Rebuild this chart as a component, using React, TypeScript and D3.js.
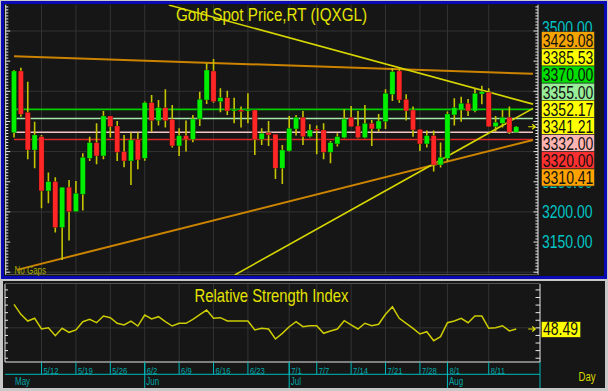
import React from "react";
import * as d3 from "d3";

// trading days shown on the chart
const dates = [
  "5/6", "5/7", "5/8", "5/9",
  "5/12", "5/13", "5/14", "5/15", "5/16",
  "5/19", "5/20", "5/21", "5/22", "5/23",
  "5/26", "5/27", "5/28", "5/29", "5/30",
  "6/2", "6/3", "6/4", "6/5", "6/6",
  "6/9", "6/10", "6/11", "6/12", "6/13",
  "6/16", "6/17", "6/18", "6/19", "6/20",
  "6/23", "6/24", "6/25", "6/26", "6/27",
  "6/30", "7/1", "7/2", "7/3", "7/4",
  "7/7", "7/8", "7/9", "7/10", "7/11",
  "7/14", "7/15", "7/16", "7/17", "7/18",
  "7/21", "7/22", "7/23", "7/24", "7/25",
  "7/28", "7/29", "7/30", "7/31", "8/1",
  "8/4", "8/5", "8/6", "8/7", "8/8",
  "8/11", "8/12", "8/13", "8/14", "8/15",
];

const opens = [
  3331.5, 3433.7, 3365.2, 3302.7, 3324.8, 3234.8, 3250.3, 3174.0, 3240.9, 3200.5,
  3229.3, 3288.9, 3314.9, 3292.8, 3359.1, 3342.5, 3300.0, 3284.5, 3320.4, 3288.9,
  3381.2, 3351.4, 3372.9, 3353.6, 3309.4, 3326.5, 3320.4, 3354.1, 3385.6, 3433.7,
  3382.9, 3389.5, 3367.4, 3369.0, 3367.4, 3369.0, 3320.4, 3331.5, 3328.7, 3272.4,
  3301.1, 3337.6, 3356.9, 3324.8, 3337.6, 3335.9, 3298.9, 3312.7, 3323.2, 3356.9,
  3342.5, 3323.2, 3346.9, 3337.6, 3349.7, 3395.0, 3433.7, 3386.7, 3369.0, 3337.0,
  3312.7, 3326.5, 3277.9, 3288.9, 3360.8, 3369.0, 3380.1, 3367.4, 3395.6, 3398.3,
  3341.4, 3346.9, 3356.9, 3332.0,
];
const highs = [
  3435.3, 3439.2, 3416.0, 3349.7, 3327.6, 3265.2, 3257.4, 3240.9, 3253.0, 3251.4,
  3297.2, 3324.8, 3346.9, 3367.4, 3359.1, 3350.8, 3327.6, 3331.5, 3331.5, 3382.9,
  3393.9, 3385.6, 3403.3, 3377.3, 3338.7, 3351.4, 3360.8, 3399.4, 3446.4, 3453.6,
  3405.0, 3401.1, 3389.5, 3374.6, 3396.7, 3369.0, 3338.7, 3350.8, 3328.7, 3311.0,
  3359.1, 3360.8, 3367.4, 3345.3, 3343.1, 3346.9, 3317.6, 3330.4, 3370.1, 3375.7,
  3367.4, 3377.3, 3352.5, 3362.4, 3403.3, 3438.1, 3438.1, 3395.0, 3374.6, 3337.0,
  3334.8, 3334.8, 3314.9, 3366.3, 3388.4, 3391.1, 3387.3, 3405.0, 3409.4, 3405.0,
  3359.1, 3369.0, 3374.6, 3342.5,
];
const lows = [
  3323.2, 3358.0, 3287.3, 3272.4, 3206.0, 3214.3, 3165.7, 3120.4, 3152.5, 3200.5,
  3202.2, 3284.5, 3279.0, 3287.3, 3323.2, 3284.5, 3274.0, 3244.7, 3270.7, 3285.0,
  3333.1, 3343.1, 3339.8, 3306.6, 3292.8, 3300.0, 3315.4, 3342.5, 3379.0, 3381.2,
  3365.2, 3360.8, 3346.9, 3339.8, 3346.9, 3294.5, 3311.0, 3309.4, 3254.7, 3246.4,
  3300.0, 3326.5, 3311.0, 3323.2, 3295.6, 3287.3, 3280.6, 3308.3, 3322.1, 3341.4,
  3322.1, 3322.1, 3309.4, 3333.1, 3337.6, 3384.0, 3381.2, 3351.4, 3324.8, 3301.1,
  3306.6, 3266.8, 3273.5, 3283.4, 3343.1, 3349.7, 3359.1, 3365.2, 3378.4, 3341.4,
  3333.1, 3339.8, 3329.3, 3332.0,
];
const closes = [
  3433.7, 3361.9, 3302.7, 3327.6, 3234.8, 3250.3, 3174.0, 3240.9, 3200.5, 3230.9,
  3290.6, 3314.9, 3292.8, 3359.1, 3341.4, 3298.9, 3284.5, 3319.3, 3286.2, 3381.2,
  3351.4, 3372.9, 3351.4, 3309.4, 3326.5, 3320.4, 3354.1, 3386.7, 3435.3, 3382.9,
  3389.5, 3367.4, 3370.1, 3366.3, 3370.1, 3320.4, 3330.4, 3327.6, 3272.4, 3302.7,
  3338.7, 3356.9, 3324.8, 3335.9, 3335.3, 3298.9, 3314.9, 3324.8, 3354.1, 3341.4,
  3323.2, 3346.9, 3337.6, 3350.8, 3396.7, 3432.6, 3385.6, 3367.4, 3335.9, 3312.7,
  3326.5, 3277.9, 3290.6, 3362.4, 3372.9, 3380.1, 3367.4, 3396.7, 3399.4, 3341.4,
  3348.6, 3356.9, 3332.0, 3341.21,
];

const rsiValues = [
  81.0, 67.8, 59.0, 62.6, 48.5, 50.2, 39.7, 49.4, 44.1, 47.2,
  58.1, 61.3, 56.8, 65.6, 63.4, 56.0, 53.8, 59.0, 52.4, 66.9,
  61.7, 64.7, 58.1, 52.4, 56.0, 56.0, 61.3, 67.3, 73.5, 62.6,
  63.4, 59.0, 59.0, 59.0, 59.0, 47.2, 49.4, 48.5, 35.3, 42.8,
  51.5, 58.1, 51.5, 52.8, 52.8, 42.8, 45.9, 48.5, 59.4, 53.8,
  48.5, 56.0, 52.8, 54.7, 67.8, 77.8, 62.6, 56.0, 49.4, 41.9,
  44.9, 33.1, 38.4, 56.8, 59.0, 62.6, 56.8, 65.6, 65.6, 49.4,
  50.2, 52.8, 45.9, 48.49,
];

const weekTicks = ["5/12", "5/19", "5/26", "6/2", "6/9", "6/16", "6/23", "7/1", "7/7", "7/14", "7/21", "7/28", "8/1", "8/11"];
const monthNames = ["May", "Jun", "Jul", "Aug"];
const monthStarts = ["5/6", "6/2", "7/1", "8/1"];

// horizontal levels
const levelPrices = [3370, 3355, 3332, 3320];
const levelColors = ["#00cc00", "#a6e6a6", "#f2c4c4", "#d82828"];

// trend lines: [day index, price]
const trendStarts = [[0, 3458.1], [0.44, 3103.9], [22.5, 3543.1], [32.1, 3095.6]];
const trendEnds = [[75.44, 3429.08], [75.44, 3319.3], [75.44, 3378.7], [75.44, 3371.7]];
const trendColors = ["#cc8400", "#cc8400", "#d6d600", "#d6d600"];

// stacked price labels at right
const labelValues = ["3429.08", "3385.53", "3370.00", "3355.00", "3352.17", "3341.21", "3332.00", "3320.00", "3310.41"];
const labelFills = ["#f5a300", "#ffff00", "#00dd00", "#98ee98", "#ffff00", "#ffff00", "#ffb4b4", "#ff3030", "#ffa200"];

// visible price axis labels (others sit under the label stack)
const axisPrices = [3150, 3200, 3250, 3500];
const rsiLast = "48.49";

const FONT = "'Liberation Sans', Arial, sans-serif";

const NText = ({ x, y, size, fill, anchor = "start", children }: any) => (
  <text
    transform={`translate(${x},${y}) scale(0.8,1)`}
    fontSize={size}
    fill={fill}
    fontFamily={FONT}
    textAnchor={anchor}
  >
    {children}
  </text>
);

export default function App() {
  const W = 608;
  const H = 391;
  const plot = { left: 5.7, right: 538, top: 4.7, bottom: 275 };
  const rsiBox = { left: 5, right: 540, top: 284, bottom: 362 };
  const stackTop = 31.7;
  const stackStep = 17.15;

  const x = d3.scaleLinear().domain([0, dates.length - 1]).range([14, 516.24]);
  const y = d3.scaleLinear().domain([3100, 3500]).range([272.2, 31]);
  const yr = d3.scaleLinear().domain([0, 100]).range([365.8, 289.9]);

  const weekX = weekTicks.map((d) => x(dates.indexOf(d)));
  const monthX = monthStarts.map((d) => x(dates.indexOf(d)));

  const rsiLine = d3
    .line<number>()
    .x((_, i) => x(i))
    .y((v) => yr(v));

  const priceTicks = d3.range(3100, 3545, 5);
  const rsiTicks = d3.range(10, 101, 10);

  const lastX = x(dates.length - 1);

  return (
    <svg
      width={W}
      height={H}
      style={{ position: "fixed", left: 0, top: 0, background: "#c8c8c8" }}
    >
      <defs>
        <clipPath id="mainClip">
          <rect x={plot.left} y={plot.top} width={plot.right - plot.left} height={plot.bottom - plot.top} />
        </clipPath>
      </defs>

      {/* main panel */}
      <rect x={2.5} y={2.5} width={603} height={275} fill="#161616" stroke="#0a0ab4" strokeWidth={3} />

      {/* grid */}
      <g stroke="#333" strokeWidth={1}>
        {[3100, 3200, 3300, 3400, 3500].map((p) => (
          <line key={p} x1={plot.left} x2={plot.right} y1={y(p)} y2={y(p)} />
        ))}
        {weekX.map((wx, i) => (
          <line key={i} x1={wx} x2={wx} y1={plot.top} y2={plot.bottom} />
        ))}
      </g>

      {/* axes */}
      <g stroke="#e8e8e8" strokeWidth={1}>
        <line x1={plot.left} x2={plot.left} y1={plot.top} y2={plot.bottom} />
        <line x1={plot.right} x2={plot.right} y1={plot.top} y2={plot.bottom} />
        {priceTicks.map((p) => {
          const len = p % 50 === 0 ? 4.5 : 2.6;
          return (
            <g key={p}>
              <line x1={plot.left} x2={plot.left + len} y1={y(p)} y2={y(p)} />
              <line x1={plot.right - len} x2={plot.right} y1={y(p)} y2={y(p)} />
            </g>
          );
        })}
      </g>
      <line x1={plot.left} x2={plot.right} y1={plot.bottom - 0.5} y2={plot.bottom - 0.5} stroke="#555" />

      <g clipPath="url(#mainClip)">
        {/* levels */}
        {levelPrices.map((p, i) => (
          <line key={p} x1={x(0)} x2={x(75.44)} y1={y(p)} y2={y(p)} stroke={levelColors[i]} strokeWidth={1.6} />
        ))}
        {/* trend lines */}
        {trendStarts.map((s, i) => (
          <line
            key={i}
            x1={x(s[0])}
            y1={y(s[1])}
            x2={x(trendEnds[i][0])}
            y2={y(trendEnds[i][1])}
            stroke={trendColors[i]}
            strokeWidth={i < 2 ? 2 : 1.6}
          />
        ))}
        {/* candles */}
        {dates.map((d, i) => {
          const o = opens[i];
          const c = closes[i];
          const up = c >= o;
          const top = y(Math.max(o, c));
          const h = Math.max(1.5, Math.abs(y(o) - y(c)));
          return (
            <g key={d}>
              <line x1={x(i)} x2={x(i)} y1={y(highs[i])} y2={y(lows[i])} stroke="#c4c400" strokeWidth={1.6} />
              <rect
                x={x(i) - 2.6}
                y={top}
                width={5.2}
                height={h}
                fill={up ? "#00ee00" : "#ff2626"}
                stroke="rgba(0,0,0,0.45)"
                strokeWidth={0.6}
              />
            </g>
          );
        })}
      </g>

      {/* last price arrow */}
      <path
        d={`M${lastX + 12},${y(3341.21)} h7 m-3,-2.5 l3,2.5 l-3,2.5`}
        stroke="#e6e600"
        strokeWidth={1.2}
        fill="none"
      />

      {/* price axis labels */}
      {axisPrices.map((p) => (
        <NText key={p} x={542} y={Math.min(y(p) + 6.2, y(p) < stackTop ? stackTop + 2 : 999)} size={17.5} fill="#00c4c4">
          {p.toFixed(2)}
        </NText>
      ))}

      {/* stacked labels */}
      {labelValues.map((v, i) => {
        const top = stackTop + i * stackStep;
        return (
          <g key={v}>
            <rect x={541.5} y={top} width={53} height={stackStep} fill={labelFills[i]} stroke="#222" strokeWidth={0.6} />
            <NText x={542.8} y={top + 15.4} size={17.5} fill="#111">
              {v}
            </NText>
          </g>
        );
      })}

      <NText x={271.5} y={20.8} size={19} fill="#e4e400" anchor="middle">
        Gold Spot Price,RT (IQXGL)
      </NText>
      <NText x={14.5} y={274} size={10} fill="#a8a800">
        No Gaps
      </NText>

      {/* RSI panel */}
      <rect x={3} y={281} width={602} height={107} fill="#161616" />
      <g stroke="#333" strokeWidth={1}>
        {weekX.map((wx, i) => (
          <line key={i} x1={wx} x2={wx} y1={rsiBox.top} y2={rsiBox.bottom} />
        ))}
        <line x1={rsiBox.left} x2={rsiBox.right} y1={yr(50)} y2={yr(50)} />
      </g>
      <line x1={rsiBox.left} x2={rsiBox.right} y1={rsiBox.top - 0.5} y2={rsiBox.top - 0.5} stroke="#555" />
      <g stroke="#e8e8e8" strokeWidth={1}>
        <line x1={rsiBox.left} x2={rsiBox.left} y1={rsiBox.top} y2={rsiBox.bottom} />
        <line x1={rsiBox.right} x2={rsiBox.right} y1={rsiBox.top} y2={rsiBox.bottom} />
        <line x1={rsiBox.left} x2={rsiBox.right} y1={rsiBox.bottom} y2={rsiBox.bottom} />
        {rsiTicks.map((t) => (
          <g key={t}>
            <line x1={rsiBox.left} x2={rsiBox.left + 3} y1={yr(t)} y2={yr(t)} />
            <line x1={rsiBox.right - 4.5} x2={rsiBox.right} y1={yr(t)} y2={yr(t)} />
          </g>
        ))}
      </g>
      <path d={rsiLine(rsiValues) || ""} fill="none" stroke="#cccc00" strokeWidth={1.5} />
      <path
        d={`M${lastX + 12},${yr(48.49)} h7 m-3,-2.5 l3,2.5 l-3,2.5`}
        stroke="#e6e600"
        strokeWidth={1.2}
        fill="none"
      />
      <rect x={541.3} y={321.7} width={39.4} height={15.6} fill="#ffff00" stroke="#222" strokeWidth={0.6} />
      <NText x={543} y={335.2} size={17.5} fill="#111">
        {rsiLast}
      </NText>
      <NText x={271.5} y={301.7} size={18.5} fill="#e4e400" anchor="middle">
        Relative Strength Index
      </NText>

      {/* date axis */}
      <g stroke="#00b8b8" strokeWidth={1}>
        <line x1={rsiBox.left} x2={rsiBox.right} y1={374.3} y2={374.3} />
        {weekX.map((wx, i) => (
          <line key={i} x1={wx} x2={wx} y1={rsiBox.bottom} y2={374.3} />
        ))}
        {monthX.slice(1).map((mx, i) => (
          <line key={i} x1={mx} x2={mx} y1={rsiBox.bottom} y2={388} />
        ))}
        <line x1={rsiBox.right} x2={rsiBox.right} y1={rsiBox.bottom} y2={388} />
      </g>
      {weekTicks.map((t, i) => (
        <NText key={t} x={weekX[i] + 2} y={373.6} size={9.6} fill="#00a8a8">
          {t}
        </NText>
      ))}
      {monthNames.map((m, i) => (
        <NText key={m} x={i === 0 ? 15 : monthX[i] + 1.5} y={385} size={10} fill="#00a8a8">
          {m}
        </NText>
      ))}
      <NText x={578.5} y={381} size={12} fill="#d8d800">
        Day
      </NText>
    </svg>
  );
}
